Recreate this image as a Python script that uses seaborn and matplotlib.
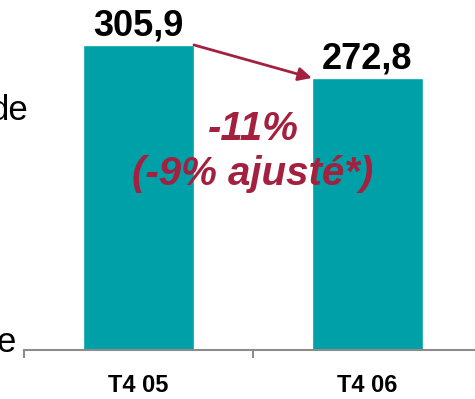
import matplotlib
matplotlib.use("Agg")
import matplotlib.pyplot as plt
import seaborn as sns
import pandas as pd

# Data
categories = ["T4 05", "T4 06"]
values = [305.9, 272.8]
value_labels = ["305,9", "272,8"]
change_text = "-11%\n(-9% ajusté*)"

teal = "#00A0A8"
wine = "#A3213F"

sns.set_style("white")
plt.rcParams["font.family"] = ["Liberation Sans", "DejaVu Sans"]
plt.rcParams["text.color"] = "black"
plt.rcParams["xtick.color"] = "black"

df = pd.DataFrame({"period": categories, "value": values})

fig = plt.figure(figsize=(4.75, 3.99), dpi=100)
ax = fig.add_axes([0.0505, 0.1228, 0.964, 0.8772])

bar_w = 0.485
sns.barplot(data=df, x="period", y="value", color=teal, width=bar_w,
            saturation=1, ax=ax)

ax.set_xlim(-0.5, 1.5)
ax.set_ylim(0, 351)
ax.set_xlabel("")
ax.set_ylabel("")
ax.set_yticks([])
for s in ["left", "right", "top"]:
    ax.spines[s].set_visible(False)
ax.spines["bottom"].set_color("#8C8C8C")
ax.spines["bottom"].set_linewidth(1.5)

# category labels centred, separator ticks between categories
ax.set_xticks(range(len(categories)))
ax.set_xticklabels(categories, fontsize=17, fontweight="bold")
ax.tick_params(axis="x", which="major", length=0, pad=17, labelcolor="black")
ax.set_xticks([-0.5, 0.5, 1.5], minor=True)
ax.tick_params(axis="x", which="minor", bottom=True, length=6, width=1.5,
               color="#8C8C8C", direction="out")

# value labels
for i, (v, lab) in enumerate(zip(values, value_labels)):
    ax.annotate(lab, (i, v), xytext=(0, 7), textcoords="offset points",
                ha="center", va="baseline", fontsize=26, fontweight="bold",
                color="black")

# arrow between bar tops
ax.annotate("", xy=(1 - bar_w / 2, values[1]), xytext=(bar_w / 2, values[0]),
            arrowprops=dict(arrowstyle="-|>", color=wine, lw=2,
                            mutation_scale=20, shrinkA=0, shrinkB=0))

ax.text(0.5, 199, change_text, ha="center", va="center", multialignment="center",
        fontsize=29, fontweight="bold", fontstyle="italic", color=wine,
        linespacing=1.25)

# cut-off text fragments on the left edge
fig.text(0.059, 1 - 120 / 399, "de", ha="right", va="baseline", fontsize=25,
         color="black")
fig.text(0.034, 1 - 352 / 399, "e", ha="right", va="baseline", fontsize=25,
         color="black")

fig.savefig("out.png", dpi=100)
